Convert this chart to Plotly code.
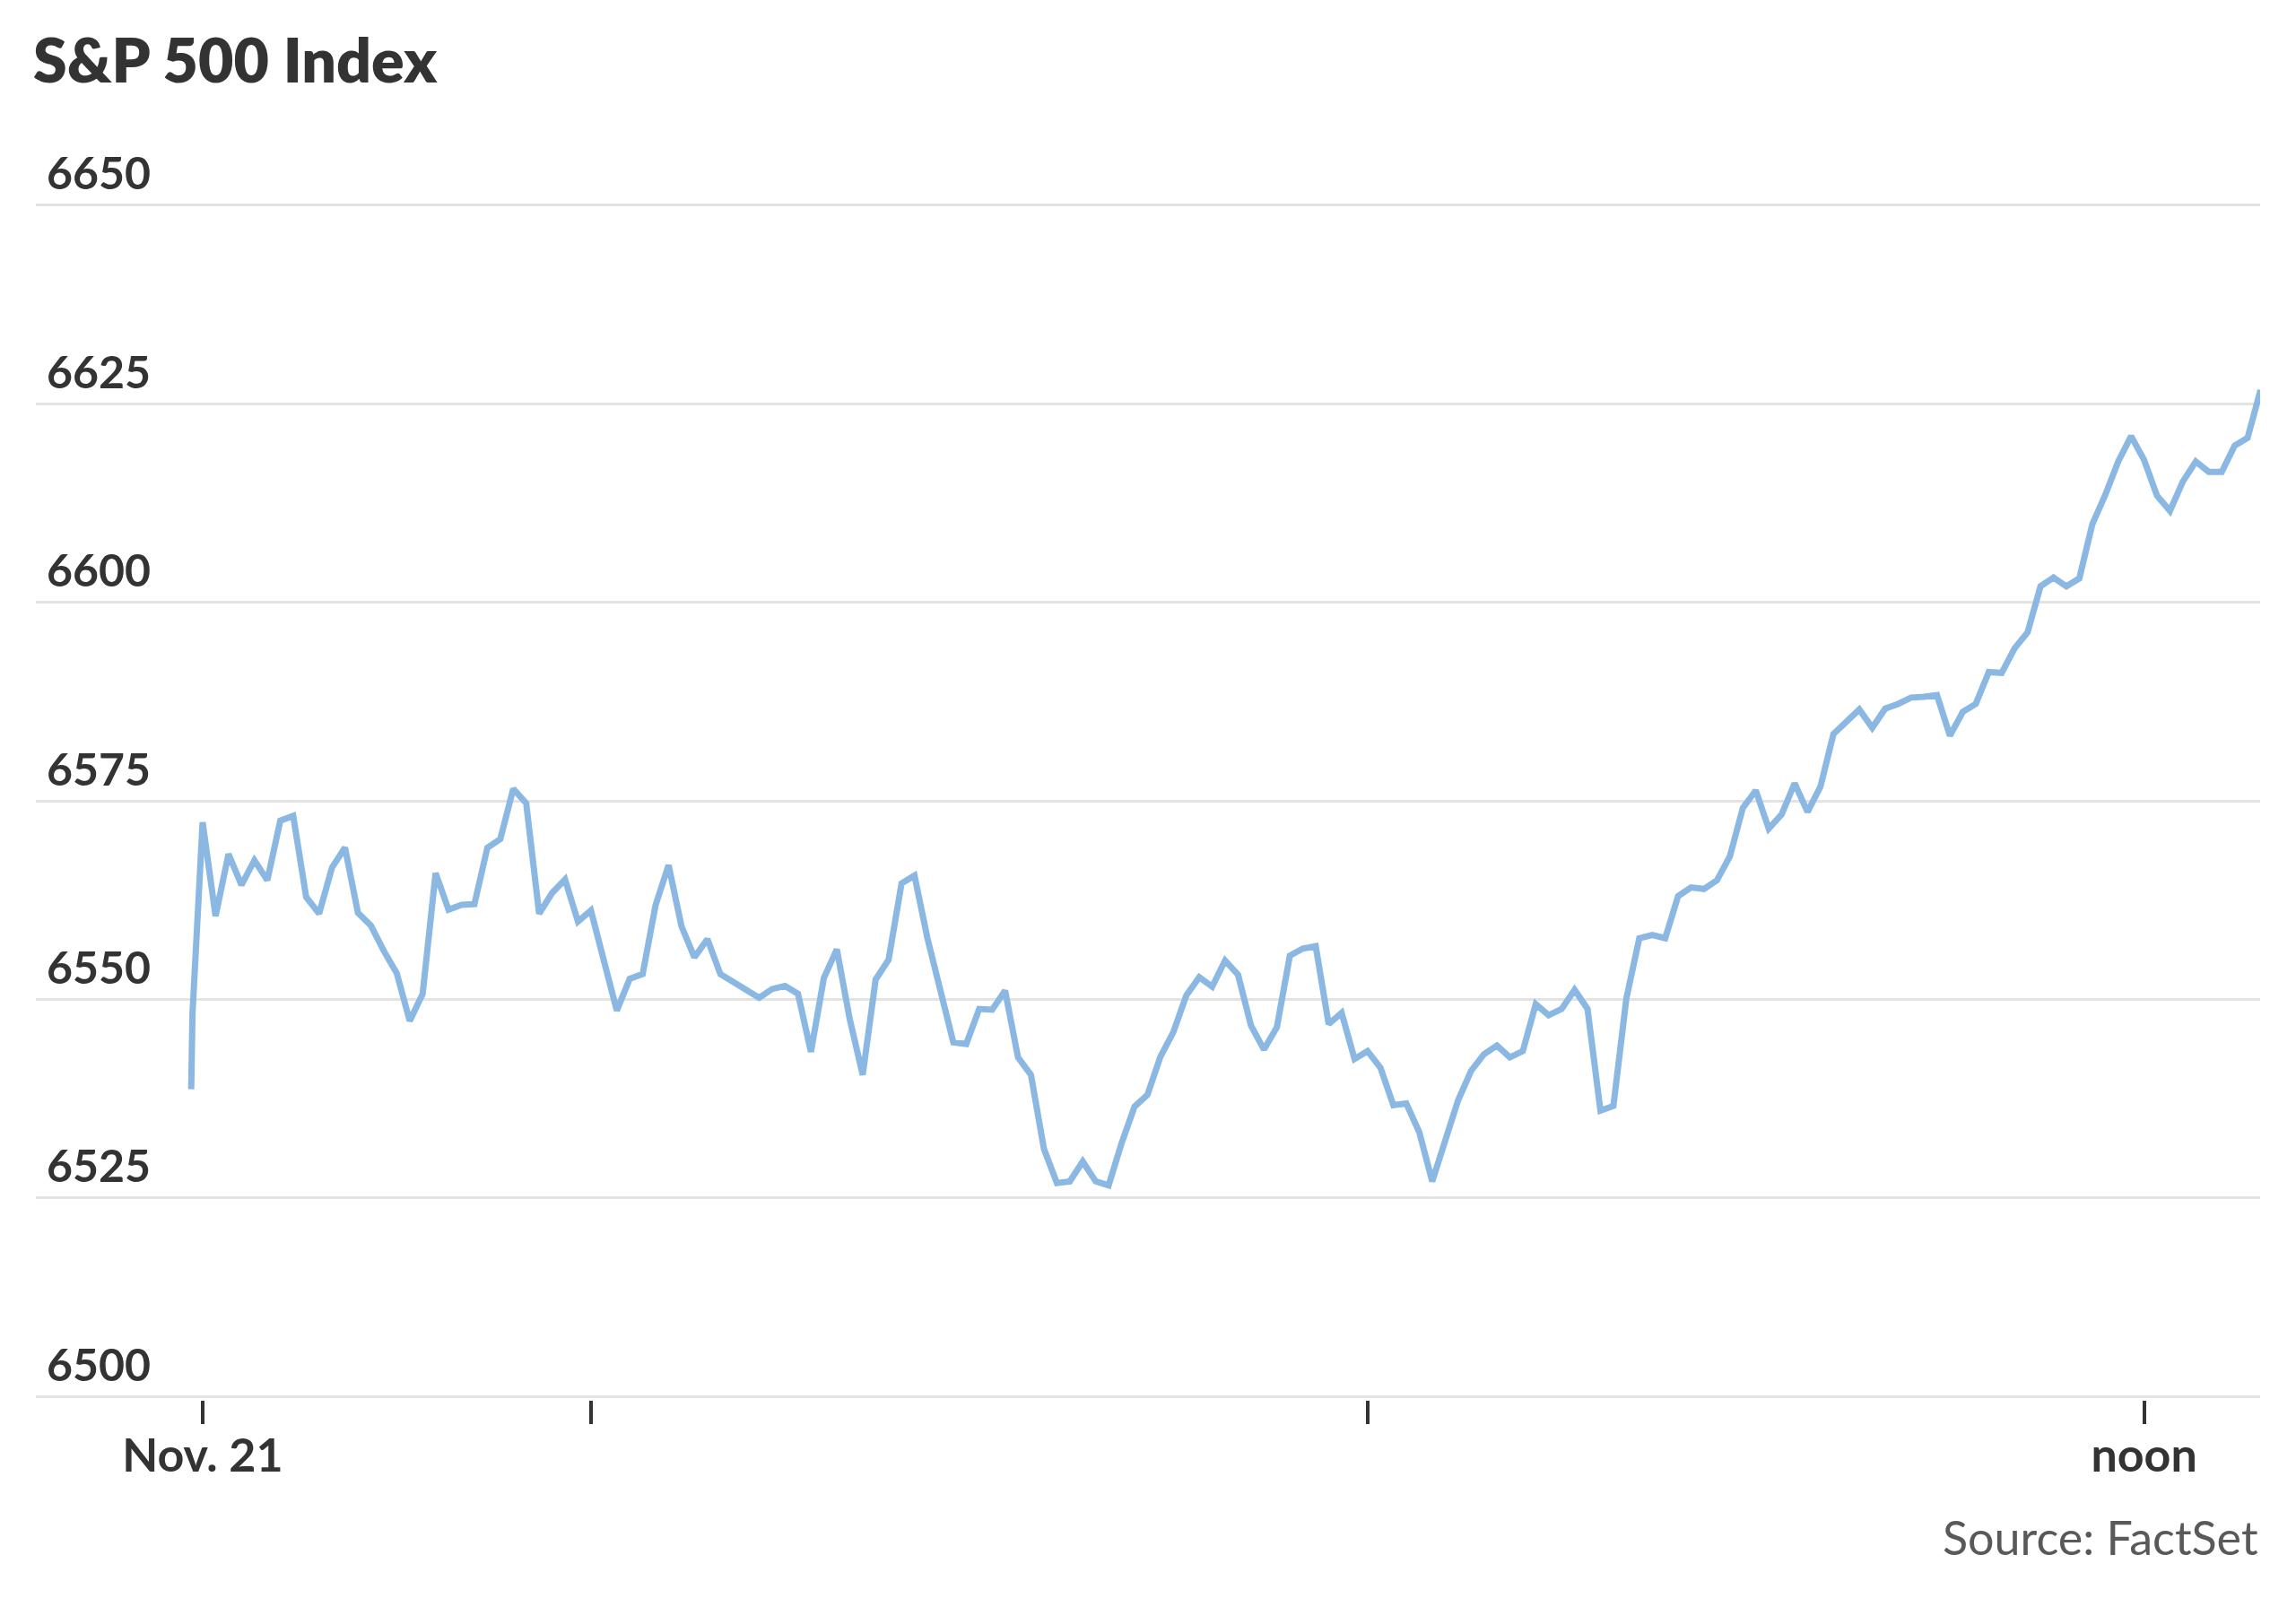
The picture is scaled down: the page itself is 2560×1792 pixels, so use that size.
import pandas as pd
import plotly.graph_objects as go

# S&P 500 intraday, Nov. 21 — one point per minute from the open
day = "2025-11-21"
pre_open_times = ["09:29:07", "09:29:13"]
pre_open_values = [6538.7, 6548.2]
open_time = "09:30"
minute_values = [
    6572.3, 6560.5, 6568.3, 6564.4, 6567.5, 6565.0, 6572.5, 6573.1, 6562.9, 6560.8,
    6566.6, 6569.1, 6560.9, 6559.3, 6556.1, 6553.3, 6547.3, 6550.7, 6565.9, 6561.3,
    6561.9, 6562.0, 6569.1, 6570.2, 6576.5, 6574.7, 6560.8, 6563.4, 6565.1, 6559.8,
    6561.2, 6554.7, 6548.6, 6552.6, 6553.2, 6561.9, 6566.9, 6559.2, 6555.3, 6557.6,
    6553.2, 6552.2, 6551.3, 6550.2, 6551.3, 6551.7, 6550.7, 6543.4, 6552.7, 6556.3,
    6547.5, 6540.5, 6552.5, 6555.0, 6564.6, 6565.6, 6557.7, 6551.3, 6544.6, 6544.4,
    6548.8, 6548.7, 6551.1, 6542.7, 6540.5, 6531.2, 6526.9, 6527.1, 6529.6, 6527.1,
    6526.6, 6531.9, 6536.5, 6538.0, 6542.8, 6545.9, 6550.5, 6552.8, 6551.6, 6554.9,
    6553.1, 6546.7, 6543.7, 6546.5, 6555.5, 6556.4, 6556.7, 6546.9, 6548.3, 6542.5,
    6543.5, 6541.4, 6536.7, 6536.9, 6533.3, 6527.1, 6532.1, 6537.3, 6541.0, 6543.1,
    6544.2, 6542.7, 6543.5, 6549.4, 6548.0, 6548.8, 6551.2, 6548.8, 6536.0, 6536.6,
    6550.1, 6557.7, 6558.1, 6557.7, 6563.0, 6564.1, 6563.9, 6565.0, 6568.0, 6574.1,
    6576.3, 6571.5, 6573.3, 6577.2, 6573.6, 6576.8, 6583.4, 6584.9, 6586.5, 6584.2,
    6586.6, 6587.2, 6588.0, 6588.1, 6588.3, 6583.2, 6586.2, 6587.2, 6591.2, 6591.1,
    6594.2, 6596.2, 6602.0, 6603.1, 6602.0, 6603.0, 6609.8, 6613.5, 6617.7, 6620.9,
    6617.9, 6613.4, 6611.5, 6615.2, 6617.7, 6616.4, 6616.4, 6619.7, 6620.7, 6626.7,
]

y_ticks = [6500, 6525, 6550, 6575, 6600, 6625, 6650]
y_range = [6499.6, 6650.4]  # a hair wider so the edge gridlines are drawn
x_tick_times = ["09:30", "10:00", "11:00", "12:00"]
x_tick_text = ["Nov. 21", "", "", "noon"]
x_range_times = ["09:17:07", "12:08:58"]

pre = pd.to_datetime([f"{day} {t}" for t in pre_open_times])
regular = pd.date_range(f"{day} {open_time}", periods=len(minute_values), freq="1min")
times = list(pre) + list(regular)
values = pre_open_values + minute_values

FONT = "Lato"
INK = "#333333"

fig = go.Figure()
fig.add_trace(go.Scatter(
    x=times, y=values,
    mode="lines",
    line=dict(color="#8ab8e2", width=7),
    hoverinfo="skip",
    showlegend=False,
))

fig.update_layout(
    width=2560,
    height=1792,
    margin=dict(l=40, r=40, t=225, b=231),
    paper_bgcolor="white",
    plot_bgcolor="white",
    title=dict(
        text="S&P 500 Index",
        x=37 / 2560, xanchor="left",
        y=1 - 44 / 1792, yanchor="top",
        font=dict(family=FONT, size=68, color=INK, weight=800),
    ),
    xaxis=dict(
        type="date",
        range=[f"{day} {t}" for t in x_range_times],
        tickvals=[f"{day} {t}" for t in x_tick_times],
        ticktext=x_tick_text,
        ticks="outside", ticklen=26, tickwidth=4, tickcolor=INK,
        ticklabelstandoff=-9,
        showgrid=False, showline=False, zeroline=False,
        tickfont=dict(family=FONT, size=52, color=INK, weight=700),
    ),
    yaxis=dict(
        range=y_range,
        tickvals=y_ticks,
        ticks="",
        showgrid=True, gridcolor="#e3e3e3", gridwidth=3,
        showline=False, zeroline=False,
        ticklabelposition="inside top",
        ticklabeloverflow="allow",
        ticklabelstandoff=9,
        tickfont=dict(family=FONT, size=50, color=INK, weight=700),
    ),
    annotations=[dict(
        text="Source: FactSet",
        xref="paper", yref="paper",
        x=1, y=-0.1145, xanchor="right", yanchor="middle",
        showarrow=False,
        font=dict(family=FONT, size=52, color="#595959"),
    )],
)

fig.write_html(
    "out.html",
    config={"displayModeBar": False},
    post_script="document.body.style.margin='0';",
)
